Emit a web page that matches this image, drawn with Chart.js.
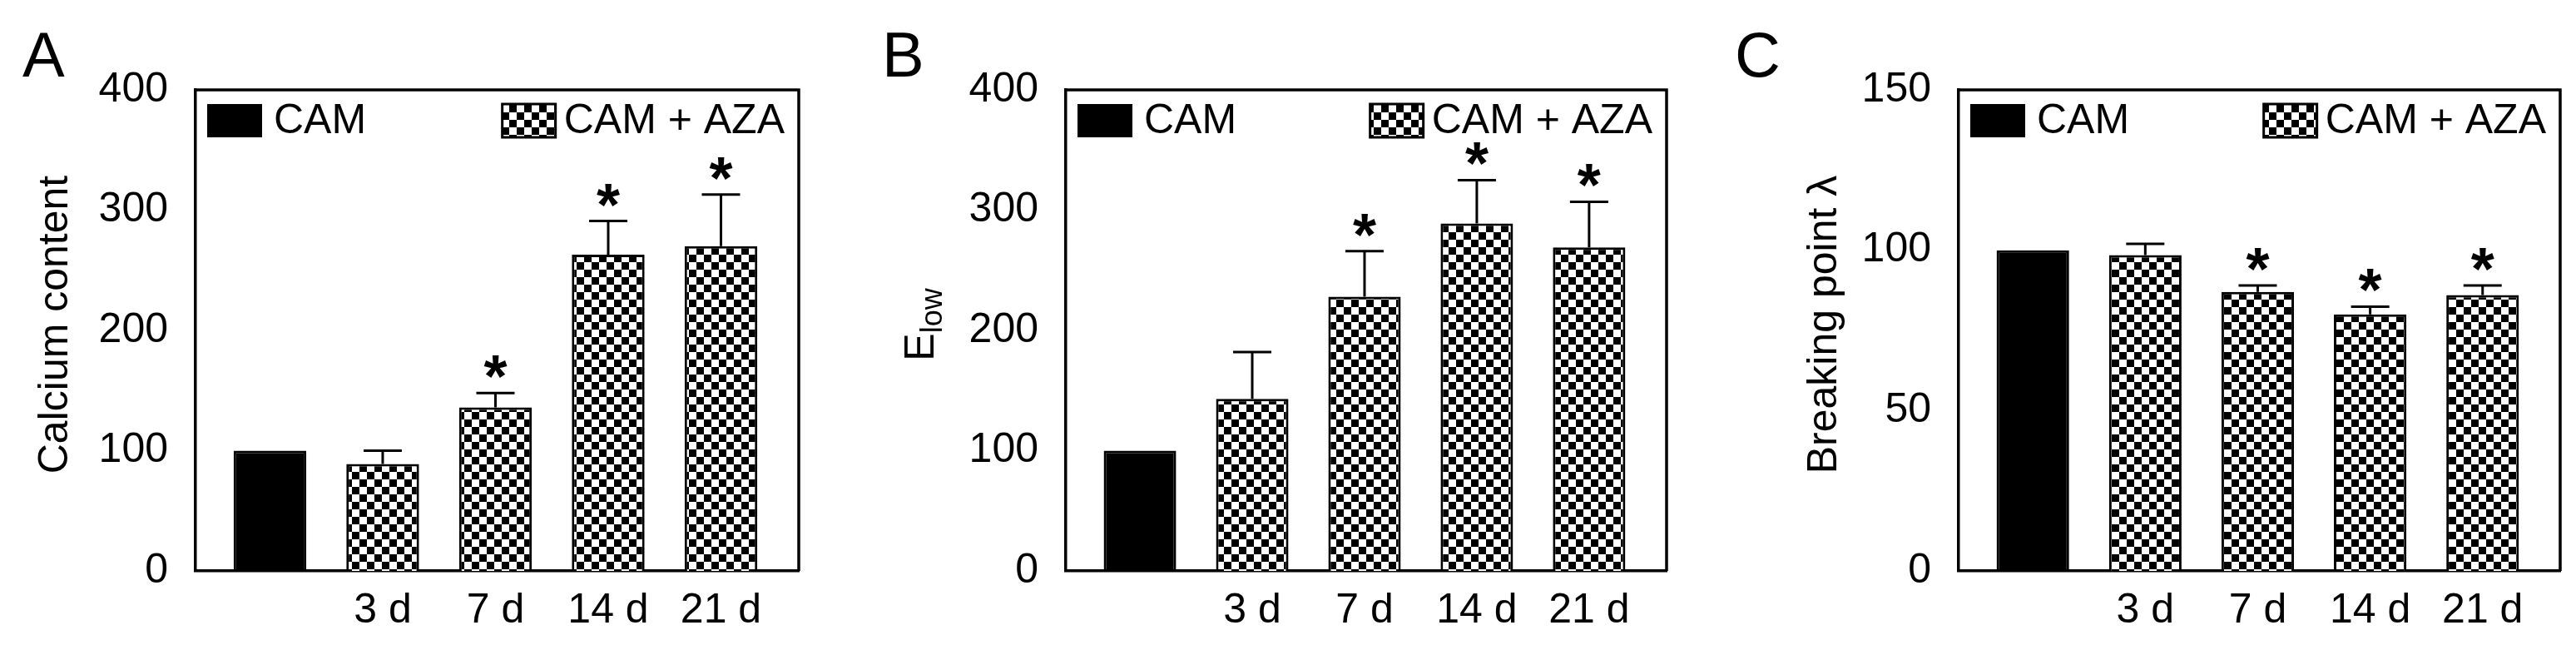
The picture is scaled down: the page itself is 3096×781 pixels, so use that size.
<!DOCTYPE html>
<html><head><meta charset="utf-8">
<script src="https://cdn.jsdelivr.net/npm/chart.js@4"></script>
<style>
body{margin:0;background:#fff;width:3096px;height:781px;overflow:hidden;position:relative}
.p{position:absolute;top:0;height:781px}
</style></head><body>
<div class="p" style="left:0;width:1030px"><canvas id="cA"></canvas></div>
<div class="p" style="left:1030px;width:1040px"><canvas id="cB"></canvas></div>
<div class="p" style="left:2070px;width:1026px"><canvas id="cC"></canvas></div>
<script>
const categories = ['', '3 d', '7 d', '14 d', '21 d'];
const calciumMean = [100, 89, 136, 263, 270];
const calciumErr  = [null, 100, 148, 291, 313];
const elowMean = [100, 143, 228, 289, 269];
const elowErr  = [null, 182, 266, 325, 307];
const breakMean = [100, 98.5, 87, 80, 86];
const breakErr  = [null, 102, 89, 82.4, 89];
const sigA = [false, false, true, true, true];
const sigB = [false, false, true, true, true];
const sigC = [false, false, true, true, true];

const FONT = '"Liberation Sans", Arial, sans-serif';
function checker(){
  const c = document.createElement('canvas'); const s = 9;
  c.width = c.height = s*2; const g = c.getContext('2d');
  g.fillStyle = '#fff'; g.fillRect(0,0,s*2,s*2);
  g.fillStyle = '#000'; g.fillRect(0,0,s,s); g.fillRect(s,s,s,s);
  return g.createPattern(c,'repeat');
}
const PAT = checker();

function makeChart(id, means, errs, sig, ymax, ystep, letter, ytitle, yw, rp){
  const data = means.map((v,i)=>({x:i,y:v}));
  const extra = {
    id:'extra',
    afterDatasetsDraw(ch){
      const g = ch.ctx, a = ch.chartArea, xs = ch.scales.x, ys = ch.scales.y;
      g.save();
      // error bars
      g.strokeStyle='#000'; g.lineWidth=3;
      errs.forEach((e,i)=>{ if(e==null) return;
        const x = xs.getPixelForValue(i), y0 = ys.getPixelForValue(means[i]), y1 = ys.getPixelForValue(e);
        g.beginPath(); g.moveTo(x,y0); g.lineTo(x,y1); g.moveTo(x-23,y1); g.lineTo(x+23,y1); g.stroke();
        if(sig[i]){ g.fillStyle='#000'; g.font='bold 72px '+FONT; g.textAlign='center'; g.textBaseline='alphabetic';
          g.fillText('*', x, y1-33+38); }
      });
      // frame
      g.lineWidth=3.5;
      g.beginPath(); g.moveTo(a.left,a.top); g.lineTo(a.right,a.top); g.lineTo(a.right,a.bottom); g.stroke();
      // legend
      g.fillStyle='#000'; g.fillRect(a.left+14, a.top+17, 66, 40);
      g.font='50px '+FONT; g.textBaseline='middle'; g.textAlign='left';
      g.fillText('CAM', a.left+94, a.top+38);
      g.textAlign='right'; const tr = a.right-17;
      g.fillText('CAM + AZA', tr, a.top+38);
      const tw = g.measureText('CAM + AZA').width;
      const bx = tr - tw - 10 - 64;
      g.fillStyle=PAT; g.fillRect(bx, a.top+17, 64, 40);
      g.strokeStyle='#000'; g.lineWidth=3; g.strokeRect(bx, a.top+17, 64, 40);
      // panel letter
      g.fillStyle='#000'; g.textAlign='left'; g.textBaseline='alphabetic';
      g.font='76px '+FONT; g.fillText(letter.t, letter.x, 92);
      // y title
      g.translate(ytitle.x, 390); g.rotate(-Math.PI/2);
      g.font='50px '+FONT; g.textBaseline='middle';
      if(ytitle.sub){
        const w1 = g.measureText(ytitle.t).width; g.font='36px '+FONT;
        const w2 = g.measureText(ytitle.sub).width; const st = -(w1+w2)/2;
        g.font='50px '+FONT; g.textAlign='left'; g.fillText(ytitle.t, st, 0);
        g.font='36px '+FONT; g.fillText(ytitle.sub, st+w1, 14);
      } else { g.textAlign='center'; g.fillText(ytitle.t, 0, 0); }
      g.restore();
    }
  };
  return new Chart(document.getElementById(id), {
    type:'bar',
    data:{datasets:[{data,
      backgroundColor: means.map((v,i)=> i===0 ? '#000' : PAT),
      borderColor:'#000', borderWidth:3, borderSkipped:'bottom',
      barPercentage:0.645, categoryPercentage:1}]},
    options:{
      responsive:true, maintainAspectRatio:false, animation:false,
      layout:{padding:{top:108, right:rp, left:0, bottom:0}},
      plugins:{legend:{display:false}, tooltip:{enabled:false}},
      scales:{
        x:{type:'linear', min:-0.66, max:4.69, offset:false,
          afterBuildTicks(s){ s.ticks = [0,1,2,3,4].map(v=>({value:v})); },
          afterFit(s){ s.height = 95; },
          grid:{display:false, drawTicks:false},
          border:{color:'#000', width:3.5},
          ticks:{padding:18, color:'#000', font:{family:FONT, size:50}, callback:v=>categories[v]||''}},
        y:{min:0, max:ymax,
          afterFit(s){ s.width = yw; },
          afterBuildTicks(s){ const t=[]; for(let v=0; v<=ymax; v+=ystep) t.push({value:v}); s.ticks=t; },
          grid:{display:false, drawOnChartArea:false, drawTicks:true, tickLength:23, tickWidth:3.5, tickColor:'#000'},
          border:{color:'#000', width:3.5},
          ticks:{padding:10, color:'#000', font:{family:FONT, size:50}}}
      }
    },
    plugins:[extra]
  });
}
makeChart('cA', calciumMean, calciumErr, sigA, 400, 100, {t:'A', x:27}, {t:'Calcium content', x:67}, 235, 70);
makeChart('cB', elowMean, elowErr, sigB, 400, 100, {t:'B', x:30}, {t:'E', sub:'low', x:78}, 251, 67);
makeChart('cC', breakMean, breakErr, sigC, 150, 50, {t:'C', x:15}, {t:'Breaking point λ', x:123}, 284, 19);
</script></body></html>
